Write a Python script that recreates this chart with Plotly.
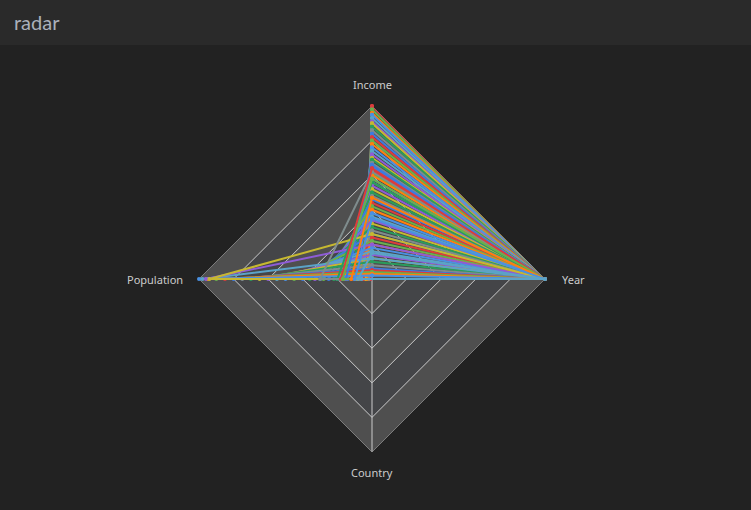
import plotly.graph_objects as go

axes = ["Income", "Population", "Country", "Year"]
income = [1.0, 0.98, 0.96, 0.95, 0.93, 0.91, 0.9, 0.88, 0.86, 0.84, 0.82, 0.8, 0.78,
          0.76, 0.74, 0.72, 0.7, 0.69, 0.67, 0.65, 0.63, 0.61, 0.6, 0.58, 0.56, 0.54,
          0.52, 0.5, 0.48, 0.46, 0.44, 0.42, 0.4, 0.38, 0.36, 0.34, 0.32, 0.3, 0.28,
          0.26, 0.24, 0.22, 0.2, 0.18, 0.16, 0.14, 0.12, 0.1, 0.08, 0.06, 0.05, 0.04,
          0.03, 0.02, 0.12, 0.2, 0.26, 0.56, 0.62, 0.66, 0.64, 0.58, 0.47, 0.35, 0.15]
population = [0.01, 0.02, 0.01, 0.03, 0.02, 0.01, 0.04, 0.02, 0.05, 0.03, 0.01, 0.06,
              0.02, 0.08, 0.03, 0.1, 0.04, 0.12, 0.02, 0.14, 0.05, 0.16, 0.03, 0.18,
              0.06, 0.2, 0.04, 0.22, 0.07, 0.25, 0.05, 0.28, 0.08, 0.3, 0.06, 0.33,
              0.09, 0.36, 0.1, 0.4, 0.12, 0.45, 0.15, 0.5, 0.55, 0.6, 0.65, 0.7, 0.75,
              0.8, 0.85, 0.9, 0.95, 1.0, 0.98, 0.96, 0.94, 0.2, 0.3, 0.15, 0.18, 0.17,
              0.12, 0.1, 0.08]
country = [0.0] * len(income)
year = [1.0] * len(income)
colors = ["#dd3c3c", "#6ab04c", "#ff7f0e", "#4a90e2", "#5ba3c7", "#8e5cd6", "#c6b830",
          "#2a9d5c", "#7f8c8d", "#3d7be0"]

fig = go.Figure()
rings = [1.0, 0.8, 0.6, 0.4, 0.2]
ring_colors = ["#4f4f4f", "#444548", "#4f4f4f", "#444548", "#4f4f4f"]
for r, c in zip(rings, ring_colors):
    fig.add_trace(go.Scatterpolar(r=[r] * 5, theta=axes + [axes[0]], fill="toself",
                                  fillcolor=c, line=dict(width=1, color="#cccccc"),
                                  mode="lines", hoverinfo="skip", showlegend=False))
for a in axes:
    fig.add_trace(go.Scatterpolar(r=[0, 1], theta=[a, a], mode="lines",
                                  line=dict(width=1, color="#cccccc"),
                                  hoverinfo="skip", showlegend=False))
for i in range(len(income)):
    vals = [income[i], population[i], country[i], year[i]]
    fig.add_trace(go.Scatterpolar(r=vals + [vals[0]], theta=axes + [axes[0]],
                                  mode="lines+markers",
                                  line=dict(color=colors[i % len(colors)], width=2),
                                  marker=dict(size=4), showlegend=False))

lab = dict(showarrow=False, xref="paper", yref="paper", yanchor="middle",
           font=dict(size=11, color="#cccccc", family="Noto Sans"))
fig.update_layout(
    width=751, height=510, paper_bgcolor="#222222", plot_bgcolor="#222222",
    margin=dict(l=0, r=0, t=0, b=0), showlegend=False,
    shapes=[dict(type="rect", xref="paper", yref="paper", x0=0, x1=1,
                 y0=1 - 45 / 510, y1=1, fillcolor="#2a2a2a", line=dict(width=0), layer="below")],
    annotations=[
        dict(text="radar", x=12 / 751, y=1 - 22 / 510, xref="paper", yref="paper",
             xanchor="left", yanchor="middle", showarrow=False,
             font=dict(size=20, color="#aab0bb", family="Lato")),
        dict(text=axes[0], x=372 / 751, y=1 - 85 / 510, xanchor="center", **lab),
        dict(text=axes[1], x=185 / 751, y=1 - 279 / 510, xanchor="right", **lab),
        dict(text=axes[2], x=372 / 751, y=1 - 472 / 510, xanchor="center", **lab),
        dict(text=axes[3], x=560 / 751, y=1 - 279 / 510, xanchor="left", **lab),
    ],
    polar=dict(
        domain=dict(x=[199 / 751, 545 / 751], y=[58 / 510, 404 / 510]),
        bgcolor="rgba(0,0,0,0)", gridshape="linear",
        radialaxis=dict(range=[0, 1], showticklabels=False, ticks="", dtick=0.2,
                        showgrid=False, showline=False),
        angularaxis=dict(direction="counterclockwise", rotation=90, showgrid=False,
                         showline=False, ticks="", showticklabels=False),
    ),
)
fig.write_html("out.html", post_script="document.body.style.margin='0';",
               config={"displayModeBar": False})
